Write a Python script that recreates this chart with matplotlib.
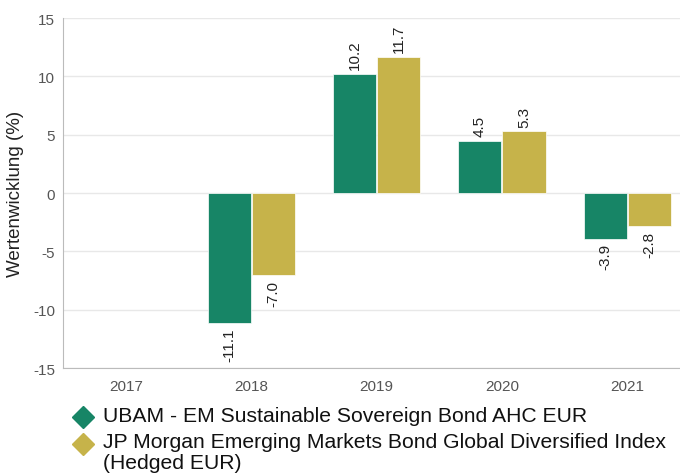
import numpy as np
import matplotlib.pyplot as plt
from matplotlib.lines import Line2D

plt.rcParams['font.family'] = ['Liberation Sans', 'DejaVu Sans']
plt.rcParams['axes.unicode_minus'] = False

years = ['2017', '2018', '2019', '2020', '2021']
fund = [np.nan, -11.1, 10.2, 4.5, -3.9]
index = [np.nan, -7.0, 11.7, 5.3, -2.8]
fund_name = 'UBAM - EM Sustainable Sovereign Bond AHC EUR'
index_lines = ['JP Morgan Emerging Markets Bond Global Diversified Index', '(Hedged EUR)']

green = '#178566'
gold = '#c6b34a'

fig = plt.figure(figsize=(6.8, 4.77), dpi=100)
ax = fig.add_axes([0.093, 0.226, 0.907, 0.734])

x = np.arange(len(years))
w = 0.345
b1 = ax.bar(x - w / 2 - 0.004, fund, w, color=green, edgecolor='white', linewidth=0.5, zorder=3)
b2 = ax.bar(x + w / 2 + 0.004, index, w, color=gold, edgecolor='white', linewidth=0.5, zorder=3)

for bars, vals in ((b1, fund), (b2, index)):
    for rect, v in zip(bars, vals):
        if np.isnan(v):
            continue
        cx = rect.get_x() + rect.get_width() / 2
        off = 0.4 if v >= 0 else -0.4
        ax.text(cx, v + off, f'{v:.1f}', rotation=90, ha='center',
                va='bottom' if v >= 0 else 'top', fontsize=11, color='#222222')

ax.set_ylim(-15, 15)
ax.set_xlim(-0.5, 4.42)
ax.set_yticks(np.arange(-15, 16, 5))
ax.set_xticks(x)
ax.set_xticklabels(years)
ax.tick_params(axis='both', length=0, labelsize=11, colors='#555555', pad=8)
ax.tick_params(axis='y', pad=6)
ax.yaxis.grid(True, color='#e8e8e8', linewidth=1, zorder=0)
for s in ('top', 'right'):
    ax.spines[s].set_visible(False)
ax.spines['left'].set_color('#bbbbbb')
ax.spines['bottom'].set_color('#bbbbbb')
ax.set_ylabel('Wertenwicklung (%)', fontsize=13.5, color='#222222')
ax.yaxis.set_label_coords(-0.063, 0.5)

# legend drawn by hand
for yy, col in ((418, green), (445, gold)):
    fig.add_artist(Line2D([0.122], [1 - yy / 477], marker='D', markersize=11.7,
                          color=col, linestyle='none', transform=fig.transFigure))
fig.text(0.151, 1 - 417 / 477, fund_name, fontsize=15.2, color='#111111', va='center')
fig.text(0.151, 1 - 442 / 477, index_lines[0], fontsize=15.2, color='#111111', va='center')
fig.text(0.151, 1 - 464 / 477, index_lines[1], fontsize=15.2, color='#111111', va='center')

fig.savefig('out.png', dpi=100)
